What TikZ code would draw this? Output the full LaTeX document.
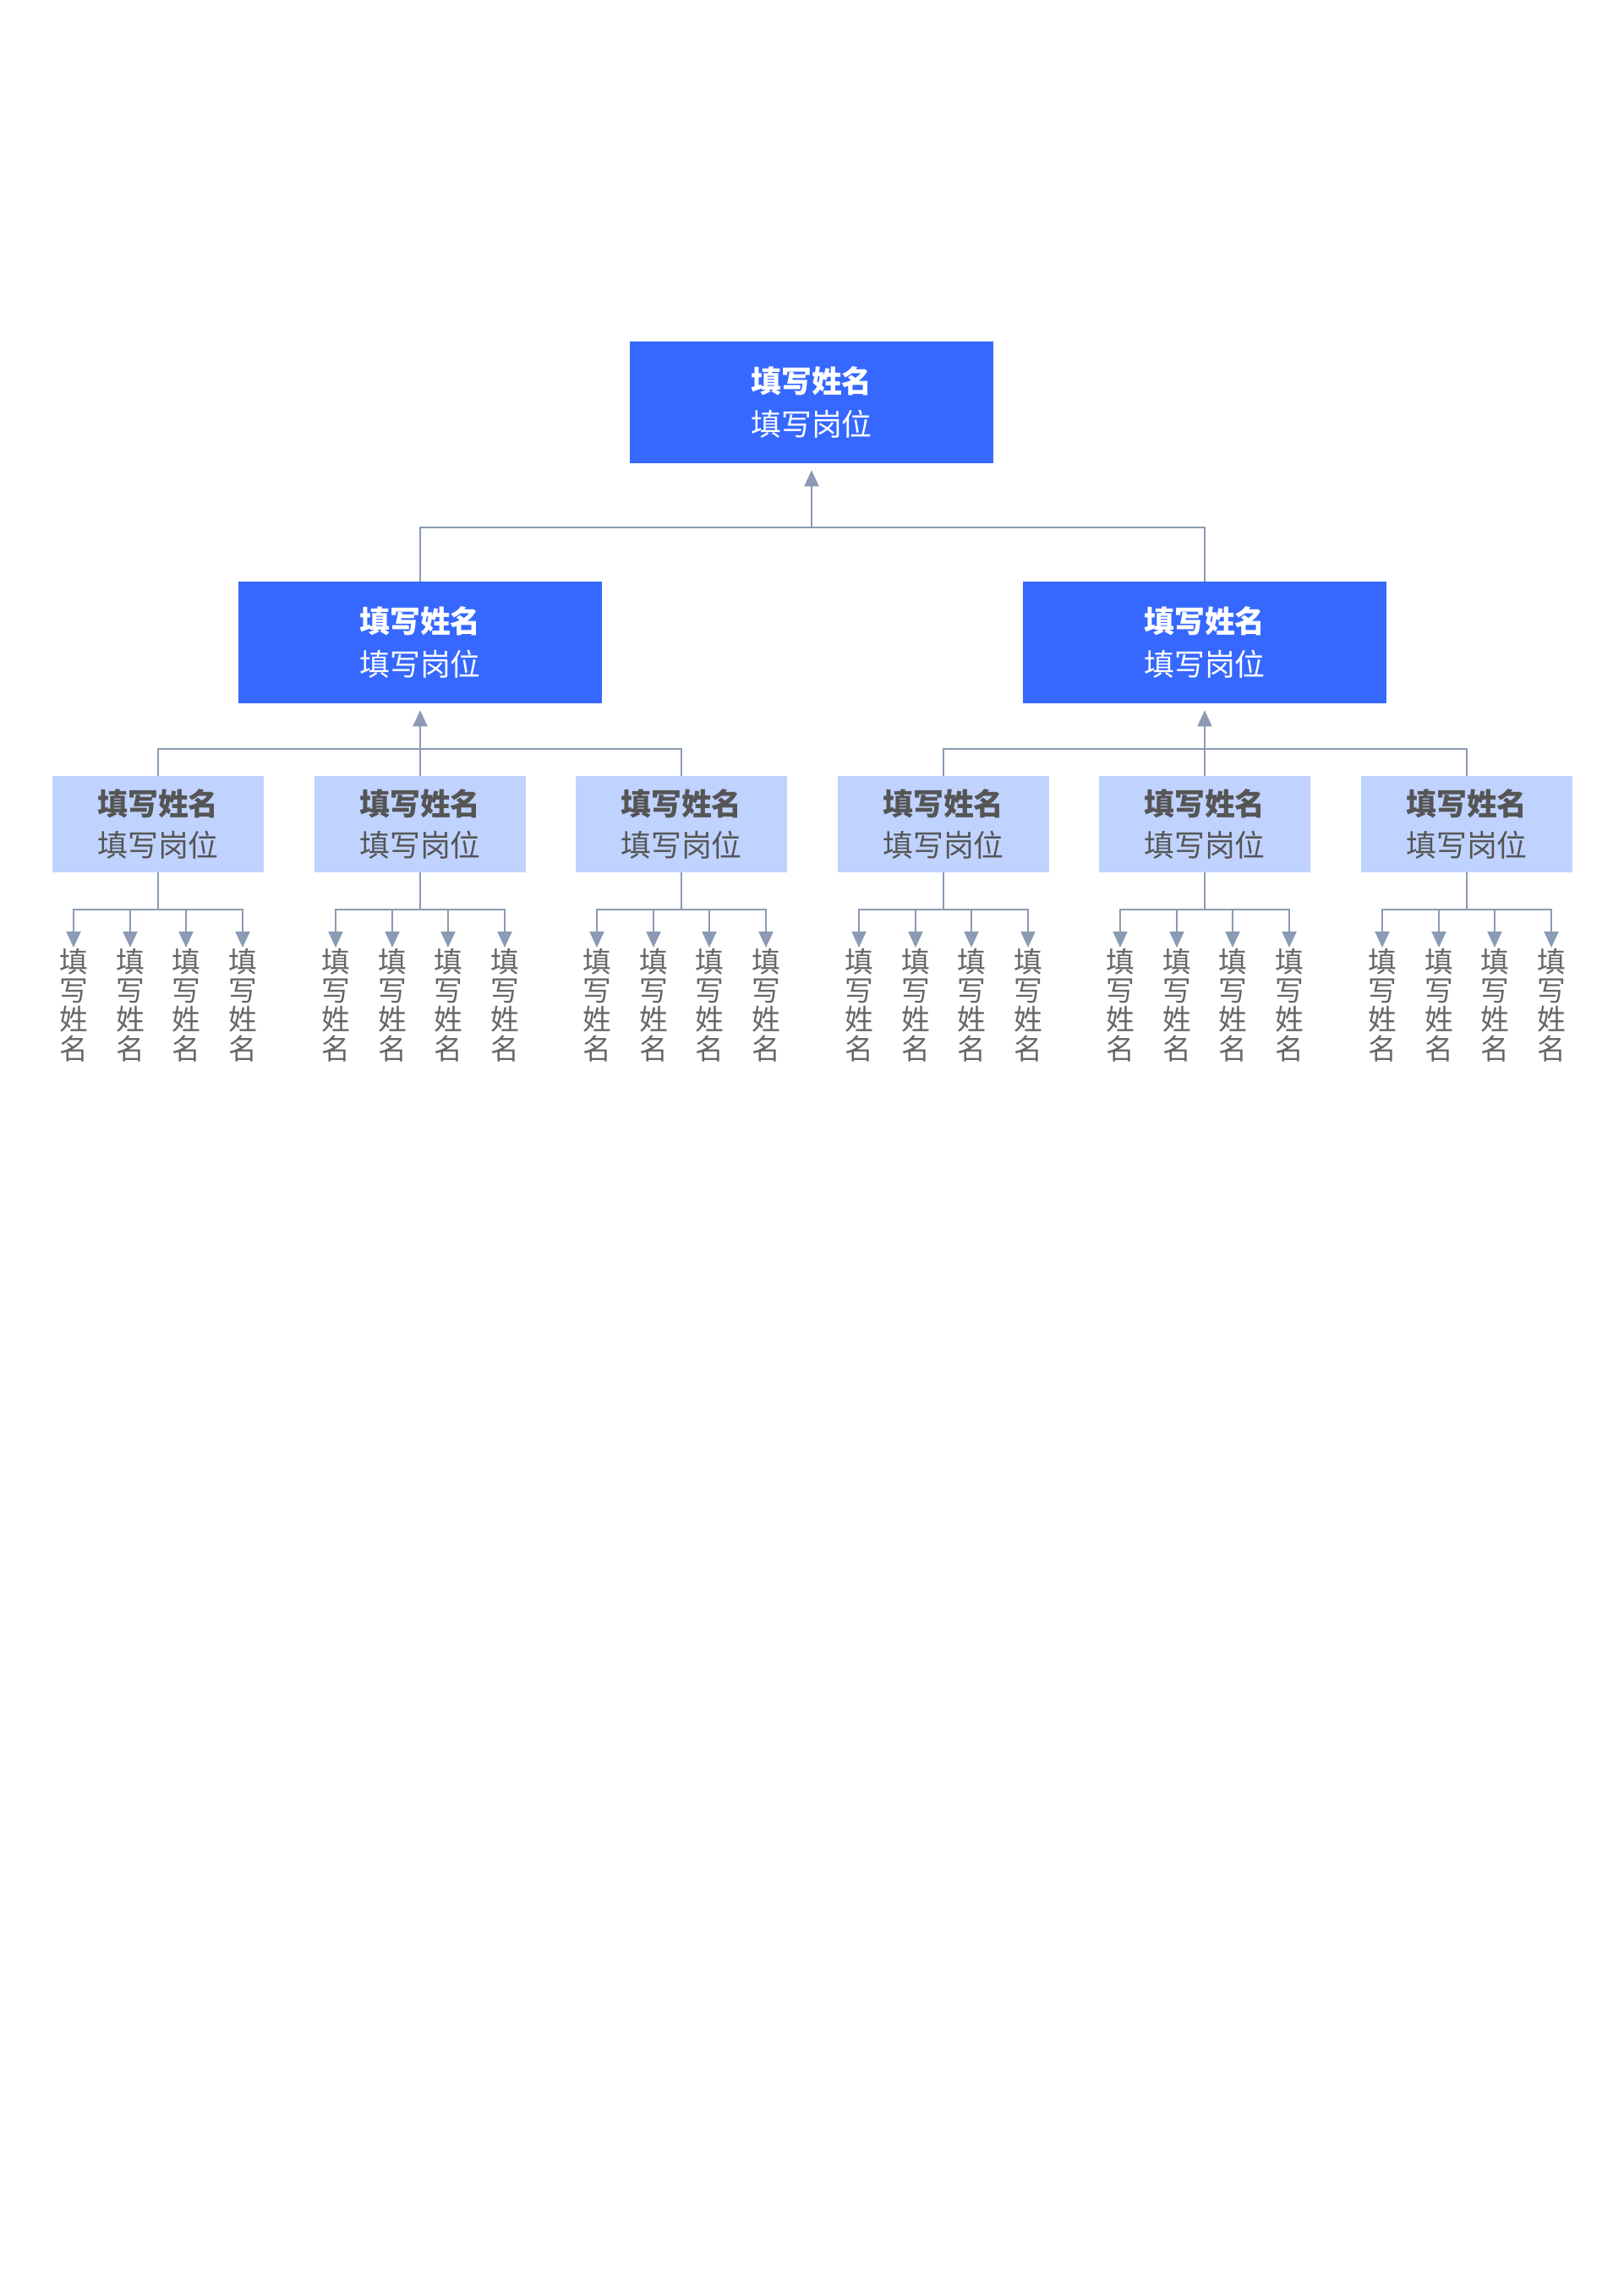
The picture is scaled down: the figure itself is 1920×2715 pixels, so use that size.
\documentclass[tikz,border=0pt]{standalone}
\usepackage{fontspec}
\setmainfont{Noto Sans CJK SC}
\usetikzlibrary{arrows.meta}
\definecolor{headblue}{RGB}{54,104,255}
\definecolor{paleblue}{RGB}{192,211,255}
\definecolor{linegray}{RGB}{138,155,179}
\definecolor{textgray}{RGB}{85,85,85}

\begin{document}
\begin{tikzpicture}[x=0.01cm, y=-0.01cm]
    \tikzstyle{head} = [rectangle, minimum width=4.3cm, minimum height=1.43cm, fill=headblue, text=white, align=center, inner sep=0pt, font=\fontsize{10.2}{14.7}\selectfont]
    \tikzstyle{team} = [rectangle, minimum width=2.5cm, minimum height=1.13cm, fill=paleblue, text=textgray, align=center, inner sep=0pt, font=\fontsize{10.2}{13.9}\selectfont]
    \tikzstyle{member} = [inner sep=0pt, align=center, text=textgray!90, font=\fontsize{9.6}{9.8}\selectfont]
    \tikzstyle{link} = [draw=linegray, line width=0.6pt]
    \tikzstyle{uparrow} = [link, -{Triangle[width=0.17cm, length=0.19cm]}, shorten >=0.08cm]
    \tikzstyle{downarrow} = [link, -{Triangle[width=0.17cm, length=0.19cm]}]
    \useasboundingbox (0,0) rectangle (1920,2715);

    % Top
    \node [head] (boss) at (960,476) {\textbf{填写姓名}\\填写岗位};

    % Second level
    \node [head] (leftlead) at (497,760) {\textbf{填写姓名}\\填写岗位};
    \node [head] (rightlead) at (1425,760) {\textbf{填写姓名}\\填写岗位};
    \coordinate (topbar) at (960,624);
    \coordinate (teambar) at (0,886);
    \draw [link] (leftlead.north) |- (topbar);
    \draw [link] (rightlead.north) |- (topbar);
    \draw [uparrow] (topbar) -- (boss.south);

    % Third level
    \foreach \i/\x/\p in {1/187/leftlead, 2/497/leftlead, 3/806/leftlead, 4/1116/rightlead, 5/1425/rightlead, 6/1735/rightlead} {
        \node [team] (team\i) at (\x,975) {\textbf{填写姓名}\\填写岗位};
        \coordinate (bar\i) at (\p.south |- teambar);
        \draw [link] (team\i.north) |- (bar\i);
        \coordinate (split\i) at (\x,1076);
        \draw [link] (team\i.south) -- (split\i);
        % Members
        \foreach \j/\dx in {1/-100, 2/-33, 3/33, 4/100} {
            \node [member, anchor=north] (mem\i\j) at (\x+\dx,1121) {填\\写\\姓\\名};
            \draw [downarrow] (split\i) -| (mem\i\j.north);
        }
    }
    \draw [uparrow] (bar2) -- (leftlead.south);
    \draw [uparrow] (bar5) -- (rightlead.south);
\end{tikzpicture}
\end{document}
